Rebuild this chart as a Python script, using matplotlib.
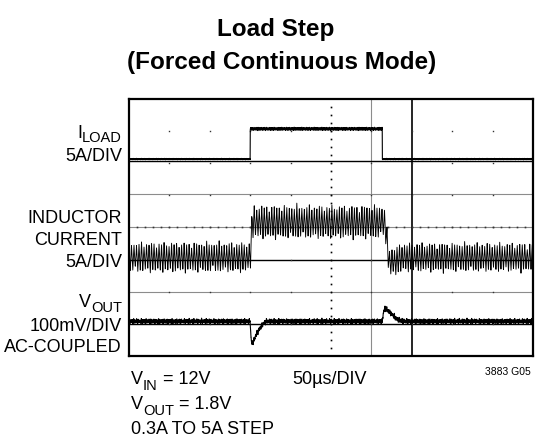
import matplotlib
matplotlib.use('Agg')
import matplotlib.pyplot as plt
from matplotlib import font_manager as fm
import matplotlib.patheffects as pe
import numpy as np

# ----------------------------------------------------------------------------
# data (time in us, 50us/div, 10 div)
# ----------------------------------------------------------------------------
t_step = [150.0, 313.5]           # load step up / down (us)
iload_levels = [0.3, 5.0]         # A, low / high load

# inductor current: average (A) keyframes and ripple peak-peak (A)
il_t = [0, 150, 152.5, 316.5, 322, 330, 338, 500]
il_avg = [0.3, 0.3, 5.8, 5.8, -0.5, -0.3, 0.3, 0.3]
il_ripple = [5.6, 6.2, 5.4]       # p-p before / during / after step

# output voltage deviation (mV), ac coupled
vout_t = [0, 150, 151, 152.5, 155, 158, 162, 166, 170,
          313.5, 314.5, 316.5, 319, 323, 327, 331, 336, 342, 500]
vout_mv = [8, 8, -45, -62, -48, -30, -14, 0, 8,
           8, 30, 50, 45, 35, 26, 16, 10, 8, 8]

# channel setup: scale per division and reference (ground) division
ILOAD_SCALE, ILOAD_REF = 5.0, 6.07
IL_SCALE, IL_REF = 5.0, 3.0
VOUT_SCALE, VOUT_REF = 100.0, 1.0

FONT = ['Liberation Sans', 'DejaVu Sans']

# condensed face for the title; thicken it if no bold cut is installed
ttf = fm.fontManager.ttflist
narrow = [f for f in ttf if f.name == 'Liberation Sans Narrow']
if narrow:
    has_bold = any(f.weight in (700, 'bold') for f in narrow)
    TITLE_KW = dict(family=['Liberation Sans Narrow'], fontsize=20.5,
                    fontweight='bold' if has_bold else 'normal')
    if not has_bold:
        TITLE_KW['path_effects'] = [pe.withStroke(linewidth=1.3, foreground='black')]
else:
    TITLE_KW = dict(family=FONT, fontsize=17.5, fontweight='bold')

GRAY = '#8c8c8c'

W, H = 548, 448
fig = plt.figure(figsize=(W / 100, H / 100), dpi=100)
fig.patch.set_facecolor('white')
ax = fig.add_axes([129 / W, (H - 356) / H, 404 / W, 257 / H])
ax.set_xlim(0, 500)
ax.set_ylim(0, 8)
ax.set_xticks([])
ax.set_yticks([])
for sp in ax.spines.values():
    sp.set_linewidth(1.6)
    sp.set_color('black')


def px(x, y):
    return x / W, 1 - y / H


def tri(t, period):
    ph = (t / period) % 1.0
    return 4 * np.abs(ph - 0.5) - 1


# ----------------------------------------------------------------------------
# graticule
# ----------------------------------------------------------------------------
for yy in [5.05, 4.0, 2.0]:
    ax.axhline(yy, color=GRAY, lw=0.8, zorder=1)
ax.axvline(300, color=GRAY, lw=0.8, zorder=1)
ax.axvline(350, color='black', lw=1.2, zorder=1)
for yy in [ILOAD_REF, IL_REF, VOUT_REF]:
    ax.axhline(yy, color='black', lw=1.0, zorder=1)

gx, gy = np.meshgrid(np.arange(50, 500, 50), np.arange(1, 8))
ax.plot(gx.ravel(), gy.ravel(), ls='none', marker='s', ms=1.0,
        color='#333333', mew=0, zorder=1)
vy = np.arange(0.25, 8, 0.25)
ax.plot(np.full_like(vy, 250), vy, ls='none', marker='s', ms=1.2,
        color='black', mew=0, zorder=1)
hx = np.arange(10, 500, 10)
ax.plot(hx, np.full_like(hx, 4.0, dtype=float), ls='none', marker='s',
        ms=1.2, color='#333333', mew=0, zorder=1)

# ----------------------------------------------------------------------------
# traces
# ----------------------------------------------------------------------------
t = np.arange(0, 500, 0.1)
on = (t >= t_step[0]) & (t < t_step[1])
fuzz = 0.55 * tri(t, 0.73) + 0.45 * tri(t, 1.91)

# load current
iload = np.where(on, iload_levels[1], iload_levels[0])
ild_noise = np.where(on, 0.055, 0.025) * fuzz
ax.plot(t, ILOAD_REF + iload / ILOAD_SCALE + ild_noise, color='black', lw=0.8, zorder=3)

# inductor current
avg = np.interp(t, il_t, il_avg)
rip = np.where(t < t_step[0], il_ripple[0], np.where(on, il_ripple[1], il_ripple[2]))
wob = 0.72 + 0.28 * tri(t, 17.3) * tri(t, 7.7)
il = avg + 0.5 * rip * tri(t, 3.1) * wob
ax.plot(t, IL_REF + il / IL_SCALE, color='black', lw=0.65, zorder=3)

# output voltage
vo = np.interp(t, vout_t, vout_mv)
vo_noise = 11 * fuzz * (0.75 + 0.25 * tri(t, 5.3))
ax.plot(t, VOUT_REF + (vo + vo_noise) / VOUT_SCALE, color='black', lw=0.8, zorder=3)

# ----------------------------------------------------------------------------
# text
# ----------------------------------------------------------------------------
fig.text(*px(275.5, 36), 'Load Step', ha='center', va='baseline', **TITLE_KW)
fig.text(*px(281.5, 69.5), '(Forced Continuous Mode)', ha='center', va='baseline',
         **TITLE_KW)

FS = 13
SUB = 10.5


def add_ann(text, anchor, xy, dy, ha, size):
    a = plt.Annotation(text, xy=xy, xycoords=anchor, xytext=(0, dy),
                       textcoords='offset points', ha=ha, va='bottom',
                       fontsize=size, family=FONT)
    a.set_figure(fig)
    fig.texts.append(a)
    return a


def label_sub_right(x, y, main, sub, drop=2.3):
    s = fig.text(*px(x, y + drop * 1.333), sub, ha='right', va='baseline',
                 fontsize=SUB, family=FONT)
    add_ann(main, s, (0, 0), drop, 'right', FS)


def label_sub_left(x, y, main, sub, rest, drop=3.3):
    m = fig.text(*px(x, y), main, ha='left', va='baseline', fontsize=FS, family=FONT)
    s = add_ann(sub, m, (1, 0), -drop, 'left', SUB)
    add_ann(rest, s, (1, 0), drop, 'left', FS)


RX = 122
label_sub_right(RX, 138.7, 'I', 'LOAD')
fig.text(*px(RX, 161.3), '5A/DIV', ha='right', va='baseline', fontsize=FS, family=FONT)
for yy, s in [(223.3, 'INDUCTOR'), (245.3, 'CURRENT'), (267.3, '5A/DIV')]:
    fig.text(*px(RX, yy), s, ha='right', va='baseline', fontsize=FS, family=FONT)
label_sub_right(RX, 308.5, 'V', 'OUT')
for yy, s in [(330.5, '100mV/DIV'), (352.5, 'AC-COUPLED')]:
    fig.text(*px(RX, yy), s, ha='right', va='baseline', fontsize=FS, family=FONT)

label_sub_left(131, 384.3, 'V', 'IN', ' = 12V')
label_sub_left(131, 409, 'V', 'OUT', ' = 1.8V')
fig.text(*px(131, 433.5), '0.3A TO 5A STEP', ha='left', va='baseline',
         fontsize=FS, family=FONT)
fig.text(*px(292, 384.3), '50\u00b5s/DIV', ha='left', va='baseline',
         fontsize=FS, family=FONT)
fig.text(*px(531, 375), '3883 G05', ha='right', va='baseline',
         fontsize=7.5, family=FONT)

fig.savefig('out.png', dpi=100, facecolor='white')
